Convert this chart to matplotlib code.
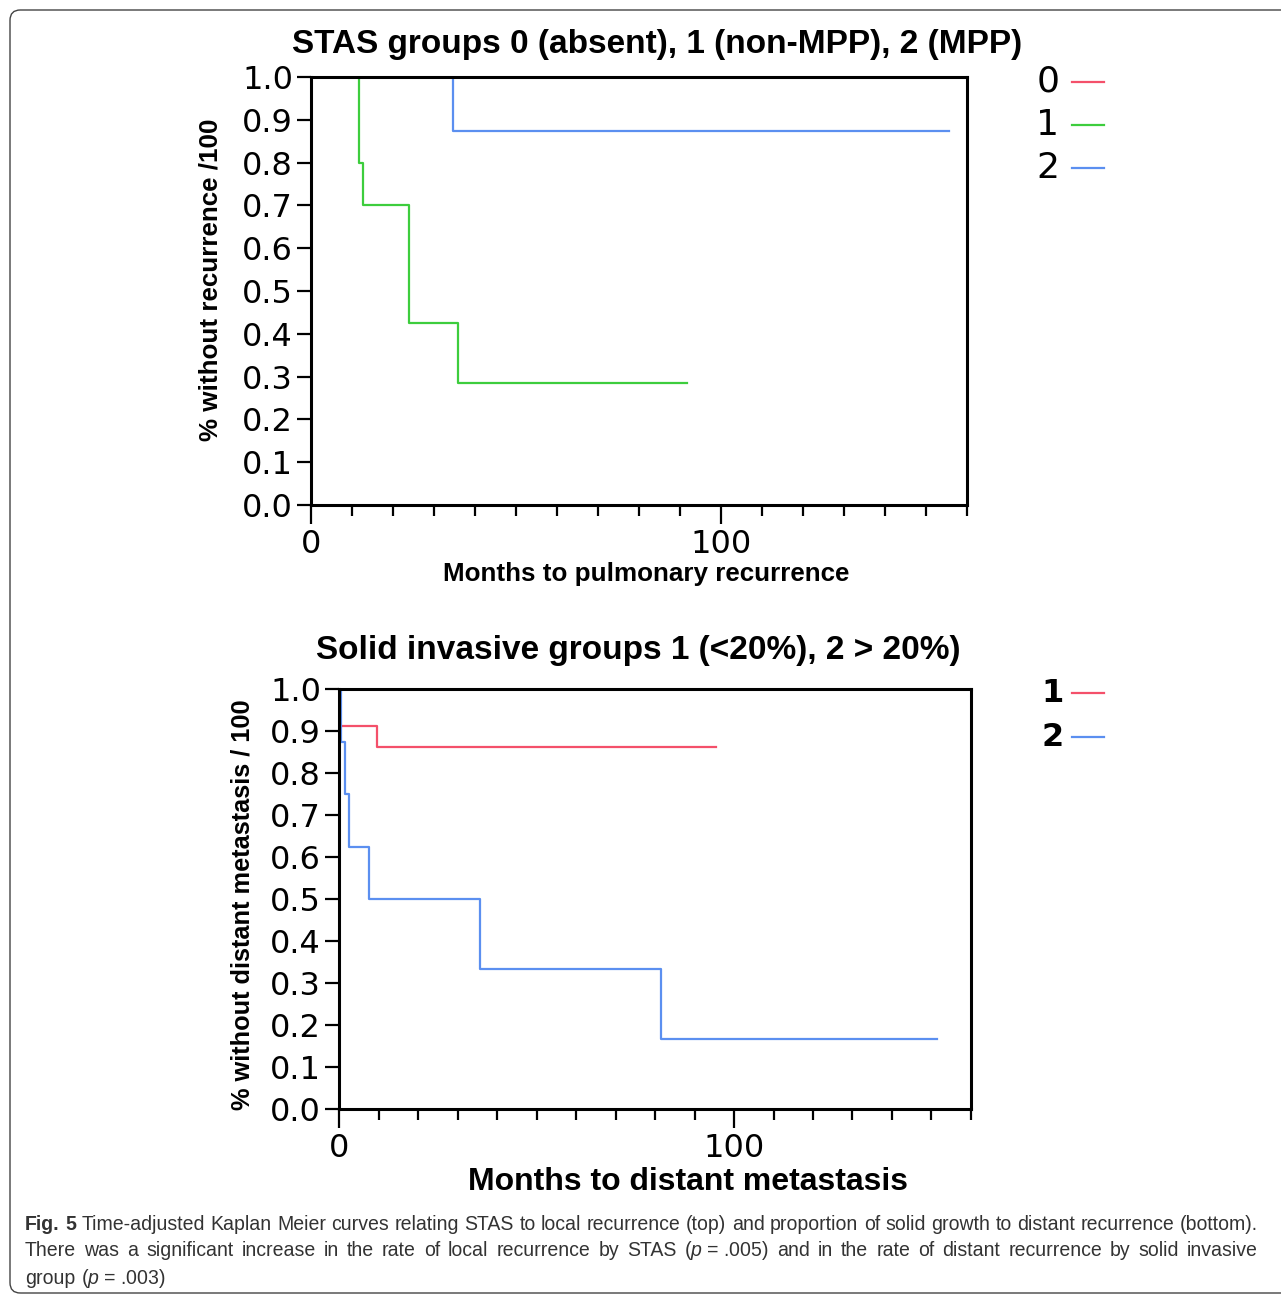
import numpy as np
import matplotlib
matplotlib.use("Agg")
import matplotlib.pyplot as plt
from matplotlib.lines import Line2D
from matplotlib.patches import FancyBboxPatch
from matplotlib import font_manager

W, H = 1281, 1295

# top panel - STAS groups (months, survival fraction)
stas1_t = [0, 11.75, 12.65, 23.8, 35.8, 91.7]
stas1_s = [1.0, 0.80, 0.70, 0.425, 0.285, 0.285]
stas2_t = [0, 34.6, 155.5]
stas2_s = [1.0, 0.875, 0.875]
stas_groups = ["0", "1", "2"]

# bottom panel - solid invasive groups
solid1_t = [0, 0.3, 9.7, 95.5]
solid1_s = [1.0, 0.912, 0.863, 0.863]
solid2_t = [0, 0.6, 1.5, 2.6, 7.65, 35.6, 81.6, 151.5]
solid2_s = [1.0, 0.875, 0.75, 0.625, 0.5, 0.333, 0.167, 0.167]
solid_groups = ["1", "2"]

yticks = [0.0, 0.1, 0.2, 0.3, 0.4, 0.5, 0.6, 0.7, 0.8, 0.9, 1.0]
ytick_labels = ["0.0", "0.1", "0.2", "0.3", "0.4", "0.5", "0.6", "0.7", "0.8", "0.9", "1.0"]
xmajor = [0, 100]
xminor = [10, 20, 30, 40, 50, 60, 70, 80, 90, 110, 120, 130, 140, 150, 160]

RED = "#f4506a"
GREEN = "#3dcd3d"
BLUE = "#5b8ff0"

names = set(f.name for f in font_manager.fontManager.ttflist)
cap_font = "Liberation Sans Narrow" if "Liberation Sans Narrow" in names else "Liberation Sans"
plt.rcParams["mathtext.fontset"] = "custom"
plt.rcParams["mathtext.it"] = cap_font + ":italic"
plt.rcParams["mathtext.rm"] = cap_font

fig = plt.figure(figsize=(W / 100, H / 100), dpi=100)


def px(x, y):
    return x / W, 1 - y / H


def make_axes(left, top, right, bottom):
    x0, y1 = px(left, top)
    x1, y0 = px(right, bottom)
    ax = fig.add_axes([x0, y0, x1 - x0, y1 - y0])
    ax.set_xlim(0, 160)
    ax.set_ylim(0, 1)
    for s in ax.spines.values():
        s.set_linewidth(2.2)
        s.set_zorder(10)
    ax.set_yticks(yticks)
    ax.set_yticklabels(ytick_labels)
    ax.set_xticks(xmajor)
    ax.set_xticks(xminor, minor=True)
    ax.tick_params(axis="y", length=10, width=1.6, pad=3, labelsize=23)
    ax.tick_params(axis="x", which="major", length=14, width=1.6, pad=3, labelsize=23)
    ax.tick_params(axis="x", which="minor", length=8, width=1.6)
    return ax


# ---- top
ax1 = make_axes(311, 77, 967, 505)
ax1.step(stas1_t, stas1_s, where="post", color=GREEN, lw=1.6, zorder=2)
ax1.step(stas2_t, stas2_s, where="post", color=BLUE, lw=1.6, zorder=2)

fig.text(*px(657, 44), "STAS groups 0 (absent), 1 (non-MPP), 2 (MPP)", ha="center", va="center",
         family="Liberation Sans", weight="bold", size=24)
fig.text(*px(211, 280), "% without recurrence /100", ha="center", va="center", rotation=90,
         family="Liberation Sans", weight="bold", size=18.7)
fig.text(*px(646, 574), "Months to pulmonary recurrence", ha="center", va="center",
         family="Liberation Sans", weight="bold", size=18.7)

for lab, col, yy in zip(stas_groups, [RED, GREEN, BLUE], [82, 125, 168]):
    fig.text(*px(1048, yy), lab, ha="center", va="center", size=26)
    fig.add_artist(Line2D([1072 / W, 1104 / W], [1 - yy / H, 1 - yy / H], color=col, lw=1.6))

# ---- bottom
ax2 = make_axes(339, 689, 971, 1109)
ax2.step(solid1_t, solid1_s, where="post", color=RED, lw=1.6, zorder=2)
ax2.step(solid2_t, solid2_s, where="post", color=BLUE, lw=1.6, zorder=2)

fig.text(*px(638, 650), "Solid invasive groups 1 (<20%), 2 > 20%)", ha="center", va="center",
         family="Liberation Sans", weight="bold", size=24)
fig.text(*px(243, 905), "% without distant metastasis / 100", ha="center", va="center", rotation=90,
         family="Liberation Sans", weight="bold", size=18.3)
fig.text(*px(688, 1182), "Months to distant metastasis", ha="center", va="center",
         family="Liberation Sans", weight="bold", size=23)

for lab, col, yy in zip(solid_groups, [RED, BLUE], [693, 737]):
    fig.text(*px(1053, yy), lab, ha="center", va="center", size=23, weight="bold")
    fig.add_artist(Line2D([1072 / W, 1104 / W], [1 - yy / H, 1 - yy / H], color=col, lw=1.6))

# ---- caption
line1 = [("Fig.", "bold"), ("5", "bold")] + [(w, "normal") for w in
         "Time-adjusted Kaplan Meier curves relating STAS to local recurrence (top) and proportion of solid growth to distant recurrence (bottom).".split()]
line2 = [(w, "normal") for w in "There was a significant increase in the rate of local recurrence by STAS".split()] + \
        [(r"($\it{p}$ = .005)", "normal")] + \
        [(w, "normal") for w in "and in the rate of distant recurrence by solid invasive".split()]
line3 = [("group", "normal"), (r"($\it{p}$ = .003)", "normal")]

renderer = fig.canvas.get_renderer()
probe = fig.text(0, 0, " ".join(w for w, _ in line1), family=cap_font, size=10)
nat = probe.get_window_extent(renderer).width
probe.remove()
cap_size = 10 * 1233 / nat
sp = fig.text(0, 0, "x x", family=cap_font, size=cap_size)
sp2 = fig.text(0, 0, "xx", family=cap_font, size=cap_size)
space_w = sp.get_window_extent(renderer).width - sp2.get_window_extent(renderer).width
sp.remove()
sp2.remove()


def put_line(yy, tokens, justify):
    texts = [fig.text(0, 1 - yy / H, t, family=cap_font, weight=wt, size=cap_size,
                      va="center", ha="left", color="#333333") for t, wt in tokens]
    widths = [t.get_window_extent(renderer).width for t in texts]
    gap = (1258 - 25 - sum(widths)) / (len(texts) - 1) if justify else space_w
    x = 25
    for t, w in zip(texts, widths):
        t.set_x(x / W)
        x += w + gap


put_line(1224, line1, True)
put_line(1251, line2, True)
put_line(1278, line3, False)

fig.add_artist(FancyBboxPatch((10 / W, 1 - 1293 / H), 1300 / W, 1283 / H,
                              boxstyle="round,pad=0,rounding_size=0.008",
                              transform=fig.transFigure, fill=False, edgecolor="#444444", lw=1.0))

fig.savefig("out.png", dpi=100)
